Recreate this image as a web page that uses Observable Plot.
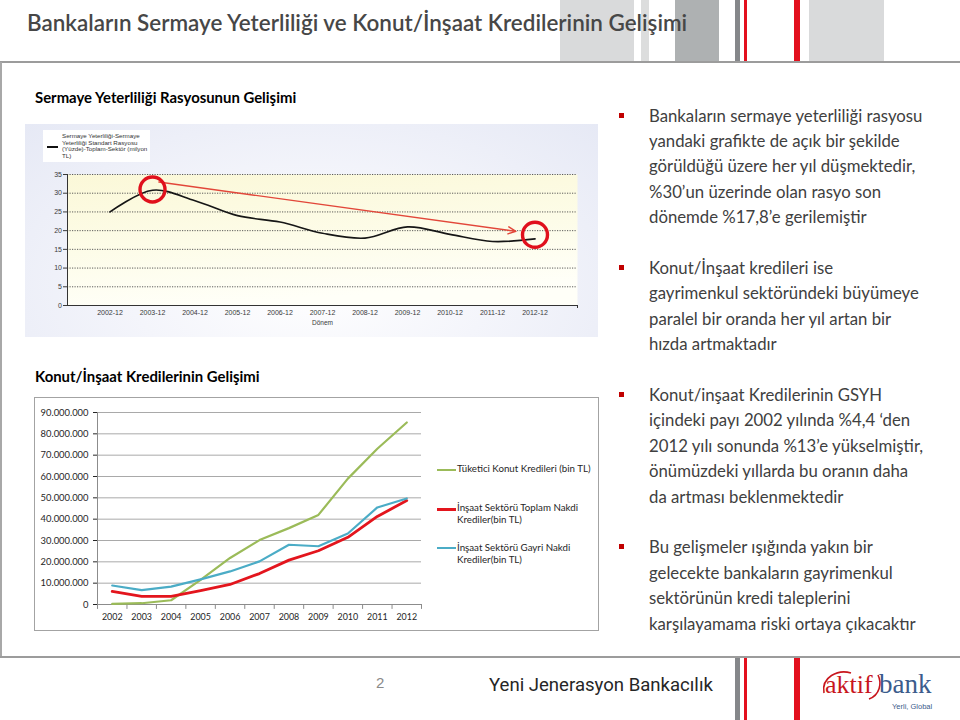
<!DOCTYPE html>
<html>
<head>
<meta charset="utf-8">
<script src="https://cdn.jsdelivr.net/npm/d3@7"></script>
<script src="https://cdn.jsdelivr.net/npm/@observablehq/plot@0.6"></script>
<style>
html,body{margin:0;padding:0;background:#fff;}
#slide{position:relative;width:960px;height:720px;overflow:hidden;background:#fff;font-family:Lato,"Open Sans",sans-serif;color:#404040;}
.a{position:absolute;}
.bar{position:absolute;}
.t{position:absolute;white-space:nowrap;line-height:1;}
.bullets{position:absolute;left:649px;color:#404040;}
.bullets p{margin:0 0 25.4px 0;position:relative;}
.bullets p::before{content:"";position:absolute;left:-30px;top:10px;width:5px;height:5px;background:#c00000;}
</style>
</head>
<body>
<div id="slide">
  <!-- decorative header bars -->
  <div class="bar" style="left:560px;top:0;width:74px;height:61px;background:#d9dadb"></div>
  <div class="bar" style="left:641px;top:0;width:8px;height:61px;background:#dcdddd"></div>
  <div class="bar" style="left:675px;top:0;width:44px;height:61px;background:#aeb1b2"></div>
  <div class="bar" style="left:735px;top:0;width:5px;height:61px;background:#85878a"></div>
  <div class="bar" style="left:744px;top:0;width:3px;height:61px;background:#e3101e"></div>
  <div class="bar" style="left:794px;top:0;width:6px;height:61px;background:#e3101e"></div>
  <div class="bar" style="left:809px;top:0;width:75px;height:61px;background:#d9dadb"></div>
  <div class="bar" style="left:0;top:61px;width:960px;height:2px;background:#9c9c9c"></div>
  <div class="bar" style="left:0;top:62px;width:2px;height:595px;background:#a8a8a8"></div>
  <div class="bar" style="left:0;top:656px;width:960px;height:2px;background:#9c9c9c"></div>
  <!-- footer bars -->
  <div class="bar" style="left:735px;top:658px;width:5px;height:62px;background:#85878a"></div>
  <div class="bar" style="left:744px;top:658px;width:3px;height:62px;background:#e3101e"></div>
  <div class="bar" style="left:794px;top:658px;width:6px;height:62px;background:#e3101e"></div>

  <div id="title" class="t" style="font-weight:600;color:#474747"></div>
  <div id="h1" class="t" style="font-weight:700;color:#000"></div>
  <div id="h2" class="t" style="font-weight:700;color:#000"></div>

  <!-- top chart -->
  <div id="topWrap" class="a" style="left:25px;top:124px;width:573px;height:213px;background:radial-gradient(ellipse at 50% 75%, #ffffff 0%, #f4f5fb 45%, #e6e9f5 100%);"></div>
  <div id="topLegend" class="a" style="left:43px;top:130px;width:107px;height:32px;background:#fff;">
    <div class="a" style="left:4px;top:16px;width:11px;height:1.5px;background:#111"></div>
    <div id="topLegendText" class="a" style="left:19px;top:3px;font-family:'Liberation Sans',Arial,sans-serif;font-size:6.2px;line-height:6.6px;color:#333;white-space:nowrap"></div>
  </div>

  <!-- bottom chart -->
  <div id="botWrap" class="a" style="left:34px;top:397px;width:563px;height:232px;border:1px solid #a3a3a3;background:#fff;"></div>
  <div id="botLegend"></div>

  <div id="bullets" class="bullets"></div>

  <div id="pageNo" class="t" style="color:#8a8a8a;font-family:'Liberation Sans',Arial,sans-serif;font-size:15px;left:376px;top:675px">2</div>
  <div id="footer" class="t" style="color:#262626;font-family:Roboto,'Liberation Sans',sans-serif;font-weight:400"></div>
  <div id="logo" class="a" style="left:820px;top:664px;width:120px;height:52px;">
    <svg width="120" height="52" viewBox="0 0 120 52">
      <path d="M4 29 C 1 13, 18 5, 31 9" fill="none" stroke="#c8161d" stroke-width="1.6"/>
      <path d="M49 35 C 60 31, 62 19, 58 11" fill="none" stroke="#c8161d" stroke-width="1.6"/>
      <text x="5" y="29" font-family="'Liberation Serif','DejaVu Serif',serif" font-size="26" fill="#c8161d">aktif</text>
      <text x="59" y="29" font-family="'Liberation Serif','DejaVu Serif',serif" font-size="27" fill="#3c5c8c">bank</text>
      <text x="72" y="45" font-family="'Liberation Sans',Arial,sans-serif" font-size="7.5" fill="#3c5c8c">Yerli, Global</text>
    </svg>
  </div>
</div>
<script>
// ---------------- DATA ----------------
const titleText = "Bankaların Sermaye Yeterliliği ve Konut/İnşaat Kredilerinin Gelişimi";
const section1 = "Sermaye Yeterliliği Rasyosunun Gelişimi";
const section2 = "Konut/İnşaat Kredilerinin Gelişimi";

// Top chart: capital adequacy ratio (%)
const ratioYears = [2002, 2003, 2004, 2005, 2006, 2007, 2008, 2009, 2010, 2011, 2012];
const ratioValues = [25, 30.8, 28, 24, 22.3, 19.3, 18, 21, 19, 17.1, 17.8];
const ratioTicks = [0, 5, 10, 15, 20, 25, 30, 35];
const ratioLegendLines = ["Sermaye Yeterliliği-Sermaye", "Yeterliliği Standart Rasyosu", "(Yüzde)-Toplam-Sektör (milyon", "TL)"];
const ratioAxisTitle = "Dönem";
const highlightYears = [2003, 2012];
const highlightValues = [31, 18.9];
const trendStart = {year: 2003.15, value: 33};
const trendEnd = {year: 2011.55, value: 19.8};

// Bottom chart: loans (bin TL)
const loanYears = [2002, 2003, 2004, 2005, 2006, 2007, 2008, 2009, 2010, 2011, 2012];
const housingLoans = [300000, 600000, 2000000, 11500000, 21800000, 30200000, 35800000, 42000000, 59000000, 73000000, 85300000];
const constructionCash = [6100000, 3800000, 3800000, 6500000, 9400000, 14500000, 20800000, 25200000, 31500000, 41300000, 48700000];
const constructionNonCash = [8900000, 6700000, 8400000, 11800000, 15500000, 20200000, 28000000, 27300000, 33300000, 45500000, 49700000];
const loanTicks = [0, 10000000, 20000000, 30000000, 40000000, 50000000, 60000000, 70000000, 80000000, 90000000];
const seriesNames = ["Tüketici Konut Kredileri (bin TL)", "İnşaat Sektörü Toplam Nakdi Krediler(bin TL)", "İnşaat Sektörü Gayri Nakdi Krediler(bin TL)"];
const seriesLegendLines = [["Tüketici Konut Kredileri (bin TL)"], ["İnşaat Sektörü Toplam Nakdi", "Krediler(bin TL)"], ["İnşaat Sektörü Gayri Nakdi", "Krediler(bin TL)"]];
const seriesColors = ["#9bbb59", "#e3151d", "#4bacc6"];

const bulletTexts = [
  ["Bankaların sermaye yeterliliği rasyosu", "yandaki grafikte de açık bir şekilde", "görüldüğü üzere her yıl düşmektedir,", "%30’un üzerinde olan rasyo son", "dönemde %17,8’e gerilemiştir"],
  ["Konut/İnşaat kredileri ise", "gayrimenkul sektöründeki büyümeye", "paralel bir oranda her yıl artan bir", "hızda artmaktadır"],
  ["Konut/inşaat Kredilerinin GSYH", "içindeki payı 2002 yılında %4,4 ‘den", "2012 yılı sonunda %13’e yükselmiştir,", "önümüzdeki yıllarda bu oranın daha", "da artması beklenmektedir"],
  ["Bu gelişmeler ışığında yakın bir", "gelecekte bankaların gayrimenkul", "sektörünün kredi taleplerini", "karşılayamama riski ortaya çıkacaktır"]
];
const footerText = "Yeni Jenerasyon Bankacılık";

// ---------------- helpers ----------------
const ctx = document.createElement("canvas").getContext("2d");
function fit(text, weight, family, target) {
  ctx.font = `${weight} 100px ${family}`;
  return 100 * target / ctx.measureText(text).width;
}
function placeText(id, text, x, baseline, size, ascOff) {
  const el = document.getElementById(id);
  el.textContent = text;
  el.style.fontSize = size + "px";
  el.style.left = x + "px";
  el.style.top = (baseline - ascOff * size) + "px";
}
const LATO_OFF = 0.887; // baseline offset at line-height 1

const tSize = fit(titleText, 600, "Lato", 662);
placeText("title", titleText, 27, 32, tSize, LATO_OFF);
const hSize = fit(section1, 700, "Lato", 262);
placeText("h1", section1, 35, 103.5, hSize, LATO_OFF);
placeText("h2", section2, 35, 382, hSize, LATO_OFF);
const fSize = fit(footerText, 400, "Roboto", 224);
placeText("footer", footerText, 489, 692, fSize, 0.5 + (0.927 - 0.244) / 2);

// bullets
const bSize = fit(bulletTexts[0][0], 400, "Lato", 274);
const bul = document.getElementById("bullets");
bul.style.fontSize = bSize + "px";
bul.style.lineHeight = "25.4px";
bul.style.top = (121.7 - 12.7 - 0.387 * bSize) + "px";
for (const para of bulletTexts) {
  const p = document.createElement("p");
  p.innerHTML = para.join("<br>");
  bul.appendChild(p);
}

// top legend text
document.getElementById("topLegendText").innerHTML = ratioLegendLines.join("<br>");

// ---------------- TOP CHART ----------------
const ratioData = ratioYears.map((year, i) => ({year, value: ratioValues[i]}));
const highlightData = highlightYears.map((year, i) => ({year, value: highlightValues[i]}));
const trendData = [{x1: trendStart.year, y1: trendStart.value, x2: trendEnd.year, y2: trendEnd.value}];

const topChart = Plot.plot({
  width: 573, height: 213,
  marginTop: 50, marginRight: 21, marginBottom: 32, marginLeft: 42,
  style: {background: "transparent", fontFamily: "'Liberation Sans', Arial, sans-serif", fontSize: "7px", color: "#3a3a3a", overflow: "visible"},
  x: {domain: [ratioYears[0] - 1, ratioYears[ratioYears.length - 1] + 1], ticks: ratioYears, tickFormat: d => `${d}-12`, tickSize: 0, tickPadding: 5, label: null},
  y: {domain: [0, 35], ticks: ratioTicks, tickSize: 4, tickPadding: 1.5, label: null},
  marks: [
    Plot.frame({fill: "url(#ratioBg)", stroke: "none"}),
    Plot.ruleY(ratioTicks.filter(d => d > 0), {stroke: "#4a4a4a", strokeDasharray: "1.2,1.3", strokeWidth: 0.9}),
    Plot.ruleY([0], {stroke: "#333", strokeWidth: 1}),
    Plot.ruleX([ratioYears[0] - 1], {stroke: "#333", strokeWidth: 1}),
    Plot.ruleX([ratioYears[ratioYears.length - 1] + 1], {y1: 0, y2: -0.8, stroke: "#333", strokeWidth: 1}),
    Plot.line(ratioData, {x: "year", y: "value", curve: "catmull-rom", stroke: "#161616", strokeWidth: 1.7}),
    Plot.arrow(trendData, {x1: "x1", y1: "y1", x2: "x2", y2: "y2", stroke: "#e2473a", strokeWidth: 1.4, headLength: 9, headAngle: 50, bend: 0}),
    Plot.dot(highlightData, {x: "year", y: "value", r: 12.5, stroke: "#e0101c", strokeWidth: 3.4, fill: "none"}),
    Plot.text([ratioAxisTitle], {frameAnchor: "bottom", dy: 19, fontSize: 6.5, fill: "#3a3a3a"})
  ]
});
(function addDefs(svg) {
  const ns = "http://www.w3.org/2000/svg";
  const defs = document.createElementNS(ns, "defs");
  defs.innerHTML = `<linearGradient id="ratioBg" x1="0" y1="0" x2="0.25" y2="1">
      <stop offset="0" stop-color="#fbf8d8"/>
      <stop offset="0.55" stop-color="#fdfce8"/>
      <stop offset="1" stop-color="#fffff8"/>
    </linearGradient>`;
  svg.insertBefore(defs, svg.firstChild);
})(topChart);
document.getElementById("topWrap").appendChild(topChart);

// ---------------- BOTTOM CHART ----------------
const seriesValues = [housingLoans, constructionCash, constructionNonCash];
const loanData = [];
seriesValues.forEach((vals, s) => vals.forEach((v, i) => loanData.push({series: seriesNames[s], year: loanYears[i], value: v})));
const bounds = loanYears.map(y => y - 0.5).concat([loanYears[loanYears.length - 1] + 0.5]);
const dotFmt = d => d3.format(",")(d).replace(/,/g, ".");
const axSize = fit("2002", 400, "Lato", 20.7);
const ySize = fit("10.000.000", 400, "Lato", 48);

const botChart = Plot.plot({
  width: 562, height: 231,
  marginTop: 14, marginRight: 176, marginBottom: 25, marginLeft: 62,
  style: {background: "transparent", fontFamily: "Lato, sans-serif", fontSize: axSize + "px", color: "#262626", overflow: "visible"},
  x: {domain: [bounds[0], bounds[bounds.length - 1]], ticks: loanYears, tickFormat: d => String(d), tickSize: 0, tickPadding: 9, label: null},
  y: {domain: [0, 90000000], ticks: loanTicks, tickFormat: dotFmt, tickSize: 4, tickPadding: 5, label: null},
  marks: [
    Plot.ruleY(loanTicks.filter(d => d > 0), {stroke: "#a9a9a9", strokeWidth: 1}),
    Plot.ruleY([0], {stroke: "#8c8c8c", strokeWidth: 1}),
    Plot.ruleX([bounds[0]], {stroke: "#8c8c8c", strokeWidth: 1}),
    Plot.ruleX(bounds, {y1: 0, y2: -2300000, stroke: "#8c8c8c", strokeWidth: 1}),
    Plot.line(loanData.filter(d => d.series === seriesNames[0]), {x: "year", y: "value", stroke: seriesColors[0], strokeWidth: 2.2}),
    Plot.line(loanData.filter(d => d.series === seriesNames[1]), {x: "year", y: "value", stroke: seriesColors[1], strokeWidth: 2.8}),
    Plot.line(loanData.filter(d => d.series === seriesNames[2]), {x: "year", y: "value", stroke: seriesColors[2], strokeWidth: 2.2})
  ]
});
d3.select(botChart).selectAll("g[aria-label='y-axis tick label'] text, g[aria-label='y-axis'] text").style("font-size", ySize + "px");
document.getElementById("botWrap").appendChild(botChart);

// bottom legend (HTML)
const legendBaselines = [[473], [511.7, 524], [551.7, 564]];
const legendLineY = [470, 509, 548];
const lgSize = fit(seriesLegendLines[0][0], 400, "Lato", 134);
const lg = document.getElementById("botLegend");
seriesLegendLines.forEach((lines, s) => {
  const sw = document.createElement("div");
  sw.className = "a";
  const w = s === 1 ? 3 : 2;
  Object.assign(sw.style, {left: "437px", top: (legendLineY[s] - w / 2) + "px", width: "19px", height: w + "px", background: seriesColors[s]});
  lg.appendChild(sw);
  lines.forEach((txt, k) => {
    const d = document.createElement("div");
    d.className = "t";
    d.textContent = txt;
    Object.assign(d.style, {left: "457px", fontSize: lgSize + "px", color: "#262626", top: (legendBaselines[s][k] - LATO_OFF * lgSize) + "px"});
    lg.appendChild(d);
  });
});
</script>
</body>
</html>
